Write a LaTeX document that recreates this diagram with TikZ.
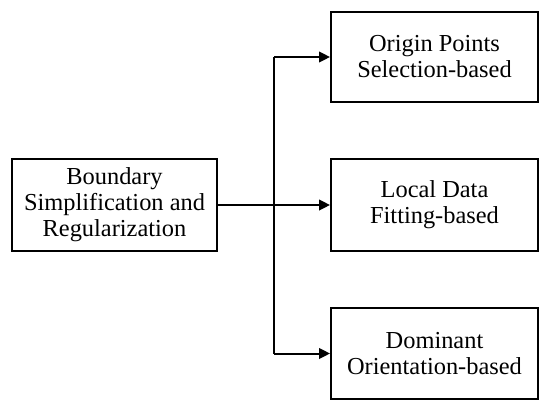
\documentclass[tikz,border=0pt]{standalone}
\usepackage{fontspec}
\setmainfont{Liberation Serif}
\usetikzlibrary{arrows.meta}
\tikzset{
  box/.style={draw, line width=1.5pt, rectangle, align=center, inner sep=0pt,
    font=\fontsize{18.3}{19.5}\selectfont},
  conn/.style={line width=1.5pt},
  arr/.style={conn, -{Triangle[length=8.25pt,width=8pt]}}
}
\begin{document}
\begin{tikzpicture}[x=0.75pt,y=-0.75pt]
\useasboundingbox (0,0) rectangle (550,408);
\node[box, minimum width=205*0.75pt, minimum height=92*0.75pt] (L) at (114.5,205) {Boundary\\Simplification and\\Regularization};
\node[box, minimum width=207*0.75pt, minimum height=90*0.75pt] (T) at (434.5,57) {Origin Points\\Selection-based};
\node[box, minimum width=207*0.75pt, minimum height=92*0.75pt] (M) at (434.5,205) {Local Data\\Fitting-based};
\node[box, minimum width=207*0.75pt, minimum height=91*0.75pt] (B) at (434.5,353.5) {Dominant\\Orientation-based};
\coordinate (jt) at (274,57);
\coordinate (jb) at (274,353.5);
\draw[conn] (jt) -- (jb);
\draw[arr] (L.east) -- (M.west);
\draw[arr] (jt) -- (T.west);
\draw[arr] (jb) -- (B.west);
\end{tikzpicture}
\end{document}
